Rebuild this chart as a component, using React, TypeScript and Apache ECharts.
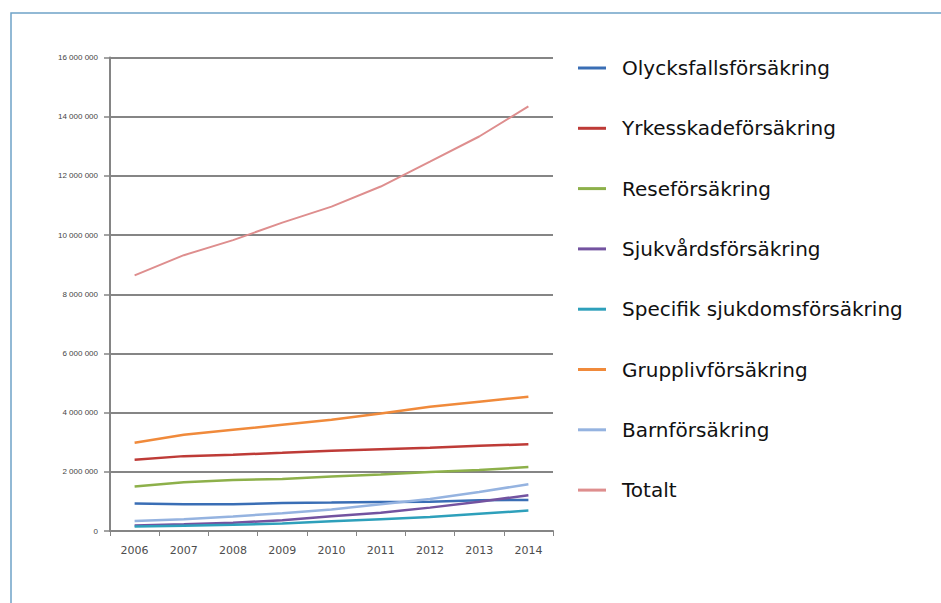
import React, { useEffect, useRef } from "react";
import * as echarts from "echarts";

const years = ["2006", "2007", "2008", "2009", "2010", "2011", "2012", "2013", "2014"];

const olycksfall = [930000, 900000, 900000, 950000, 960000, 980000, 990000, 1040000, 1050000];
const yrkesskade = [2410000, 2530000, 2580000, 2640000, 2710000, 2760000, 2810000, 2880000, 2930000];
const rese = [1500000, 1650000, 1720000, 1760000, 1840000, 1910000, 1990000, 2060000, 2160000];
const sjukvard = [190000, 230000, 280000, 360000, 500000, 620000, 790000, 990000, 1210000];
const specifik = [150000, 180000, 210000, 250000, 330000, 400000, 470000, 580000, 690000];
const gruppliv = [2980000, 3250000, 3420000, 3590000, 3760000, 3970000, 4200000, 4370000, 4540000];
const barn = [340000, 400000, 490000, 600000, 730000, 900000, 1080000, 1320000, 1580000];
const totalt = [8640000, 9320000, 9830000, 10420000, 10960000, 11640000, 12480000, 13330000, 14350000];

const seriesNames = [
  "Olycksfallsförsäkring",
  "Yrkesskadeförsäkring",
  "Reseförsäkring",
  "Sjukvårdsförsäkring",
  "Specifik sjukdomsförsäkring",
  "Grupplivförsäkring",
  "Barnförsäkring",
  "Totalt",
];
const seriesData = [olycksfall, yrkesskade, rese, sjukvard, specifik, gruppliv, barn, totalt];
const seriesColors = ["#3a6eb5", "#be3b37", "#8db04a", "#7353a0", "#2ea0bb", "#f08a3b", "#95b3e0", "#de8e8e"];

const yMin = 0;
const yMax = 16000000;
const yStep = 2000000;

function fmt(v: number): string {
  return String(v).replace(/\B(?=(\d{3})+(?!\d))/g, " ");
}

export default function App() {
  const ref = useRef<HTMLDivElement>(null);
  useEffect(() => {
    if (!ref.current) return;
    const chart = echarts.init(ref.current, undefined, { renderer: "svg" });
    chart.setOption({
      animation: false,
      backgroundColor: "#ffffff",
      graphic: [
        {
          type: "rect",
          shape: { x: 11, y: 13, width: 940, height: 600 },
          style: { fill: "none", stroke: "#6fa3c8", lineWidth: 1.5 },
          silent: true,
        },
      ],
      grid: { left: 110, right: 388, top: 57.5, bottom: 72 },
      legend: {
        orient: "vertical",
        left: 573,
        top: 51,
        itemWidth: 28,
        itemHeight: 3,
        itemGap: 36.3,
        icon: "rect",
        data: seriesNames,
        textStyle: {
          fontFamily: "DejaVu Sans",
          fontSize: 20,
          lineHeight: 24,
          color: "#111111",
          padding: [0, 0, 0, 11],
        },
      },
      xAxis: {
        type: "category",
        data: years,
        boundaryGap: true,
        axisLine: { lineStyle: { color: "#858585", width: 2 } },
        axisTick: { show: true, length: 5, lineStyle: { color: "#858585", width: 1 } },
        axisLabel: {
          fontFamily: "DejaVu Sans",
          fontSize: 11,
          color: "#4d4d4d",
          margin: 14,
        },
        splitLine: { show: false },
      },
      yAxis: {
        type: "value",
        min: yMin,
        max: yMax,
        interval: yStep,
        axisLine: { show: true, lineStyle: { color: "#858585", width: 2 } },
        axisTick: { show: true, length: 6, lineStyle: { color: "#858585", width: 1.5 } },
        axisLabel: {
          fontFamily: "Liberation Sans",
          fontSize: 8,
          color: "#444444",
          margin: 12,
          formatter: (v: number) => fmt(v),
        },
        splitLine: { show: true, lineStyle: { color: "#858585", width: 2 } },
      },
      series: seriesNames.map((name, i) => ({
        name,
        type: "line",
        data: seriesData[i],
        showSymbol: false,
        symbol: "none",
        lineStyle: { color: seriesColors[i], width: i === 7 ? 2 : 2.5 },
        itemStyle: { color: seriesColors[i] },
      })),
    });
    return () => chart.dispose();
  }, []);
  return (
    <div
      ref={ref}
      style={{ position: "fixed", left: 0, top: 0, width: 941, height: 603 }}
    />
  );
}
